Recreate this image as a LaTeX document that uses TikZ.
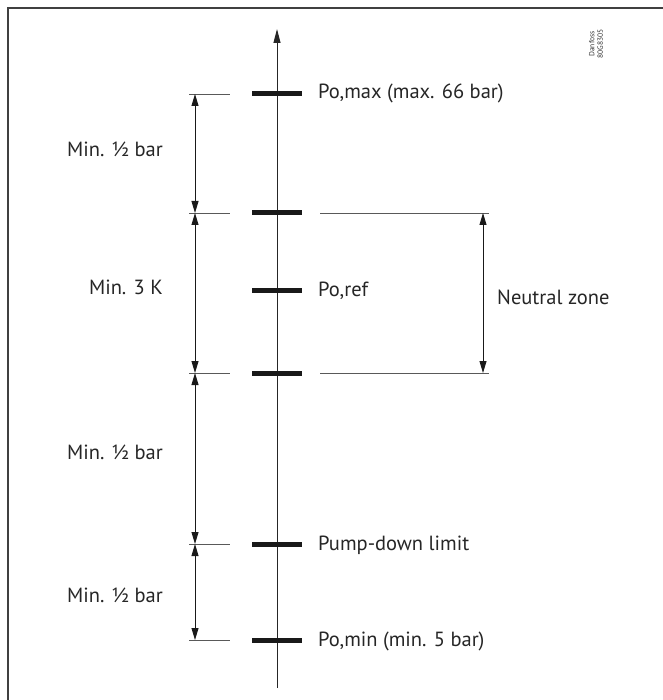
\documentclass[tikz,border=0pt]{standalone}
\usepackage{fontspec}
\setmainfont{PT Sans}
\usetikzlibrary{arrows.meta}
\begin{document}
\begin{tikzpicture}[x=1pt,y=-1pt,
  tickbar/.style={line width=5pt, black!90},
  thin/.style={line width=0.8pt, black!65},
  dimline/.style={line width=0.9pt, black!90, {Triangle[length=12pt,width=7pt]}-{Triangle[length=12pt,width=7pt]}},
  lbl/.style={font=\fontsize{20.5}{24}\selectfont, text=black!85, inner sep=0pt},
  leftlbl/.style={lbl, anchor=east},
  rightlbl/.style={lbl, anchor=west}]
\useasboundingbox (0,0) rectangle (662,700);
% frame
\draw[line width=1.4pt, black!75] (8,710) -- (8,8) -- (670,8);
% axis
\coordinate (bot) at (277,688);
\coordinate (top) at (277,29);
\draw[line width=1pt, black!85, -{Triangle[length=14pt,width=7pt]}] (bot) -- (top);
% levels
\foreach \n/\y in {pmax/94, nz1/213, pref/290, nz2/373, pd/544, pmin/640}{
  \coordinate (\n) at (277,\y);
  \draw[tickbar] (252,\y) -- (302,\y);
}
% left extension lines
\foreach \n/\y in {a/94, b/213, c/373, d/544, e/640}{
  \coordinate (L\n) at (189,\y);
  \coordinate (R\n) at (230,\y);
  \coordinate (D\n) at (195,\y);
  \draw[thin] (L\n) -- (R\n);
}
% right extension lines
\coordinate (nzl1) at (320,213); \coordinate (nzr1) at (489,213);
\coordinate (nzl2) at (320,373); \coordinate (nzr2) at (489,373);
\draw[thin] (nzl1) -- (nzr1);
\draw[thin] (nzl2) -- (nzr2);
\coordinate (NZa) at (483,213); \coordinate (NZb) at (483,373);
% dimension arrows
\draw[dimline] (Da) -- (Db);
\draw[dimline] (Db) -- (Dc);
\draw[dimline] (Dc) -- (Dd);
\draw[dimline] (Dd) -- (De);
\draw[dimline] (NZa) -- (NZb);
% left labels
\node[leftlbl] (m1) at (163,149) {Min. ½ bar};
\node[leftlbl] (m2) at (163,287) {Min. 3 K};
\node[leftlbl] (m3) at (163,452) {Min. ½ bar};
\node[leftlbl] (m4) at (163,595) {Min. ½ bar};
% right labels
\node[rightlbl] (t1) at (318,93) {Po,max (max. 66 bar)};
\node[rightlbl] (t2) at (318,291) {Po,ref};
\node[rightlbl] (t3) at (318,545) {Pump-down limit};
\node[rightlbl] (t4) at (318,641) {Po,min (min. 5 bar)};
\node[rightlbl] (nz) at (497,297) {Neutral zone};
% code
\node[rotate=90, font=\fontsize{7.5}{8.5}\selectfont, text=black!80, align=center, inner sep=0pt] (code) at (596,44) {Danfoss\\80G8305};
\end{tikzpicture}
\end{document}
